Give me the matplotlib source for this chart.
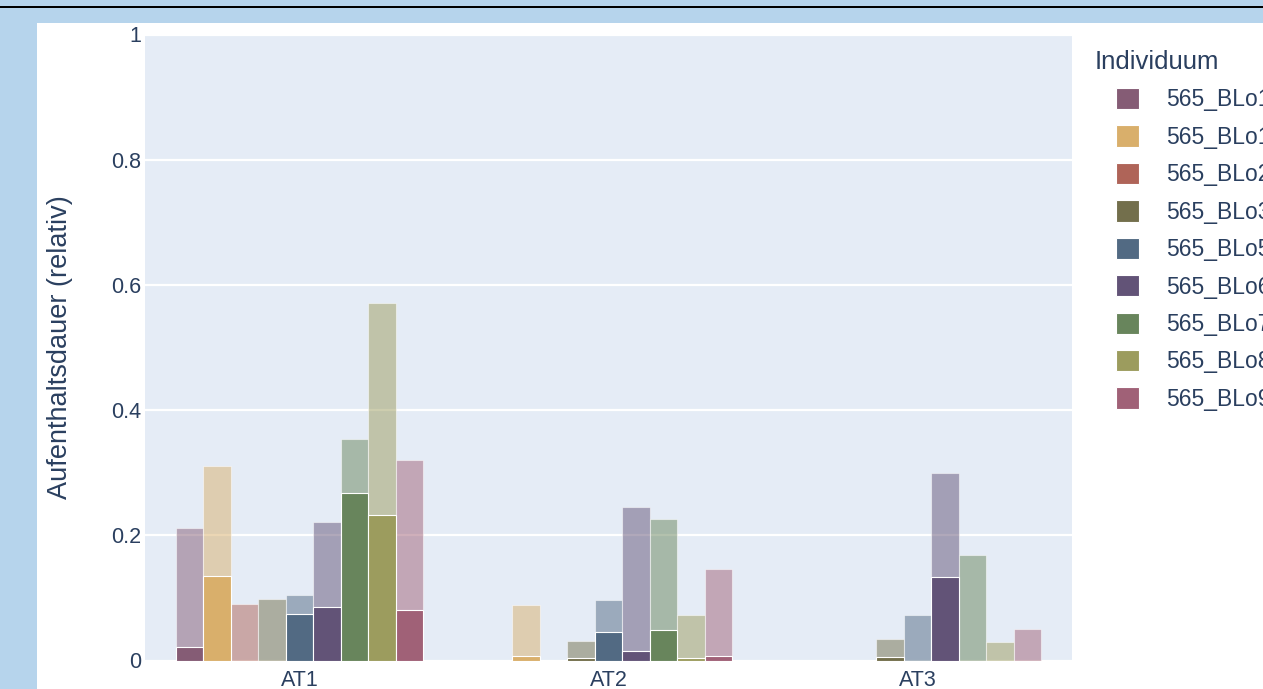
import matplotlib.pyplot as plt
import numpy as np
from matplotlib.patches import Rectangle

# Daten
kategorien = ["AT1", "AT2", "AT3"]
individuen = ["565_BLo1", "565_BLo10", "565_BLo2", "565_BLo3", "565_BLo5",
              "565_BLo6", "565_BLo7", "565_BLo8", "565_BLo9"]

# hellere Balken (gesamt)
werte_hell = [
    [0.212, 0.0, 0.0],
    [0.310, 0.088, 0.0],
    [0.091, 0.0, 0.0],
    [0.0985, 0.031, 0.035],
    [0.104, 0.097, 0.072],
    [0.221, 0.245, 0.299],
    [0.354, 0.226, 0.169],
    [0.571, 0.072, 0.029],
    [0.321, 0.146, 0.050],
]
# dunkle Balken (Anteil)
werte_dunkel = [
    [0.021, 0.0, 0.0],
    [0.135, 0.007, 0.0],
    [0.0, 0.0, 0.0],
    [0.0, 0.004, 0.006],
    [0.0745, 0.045, 0.0],
    [0.086, 0.015, 0.134],
    [0.268, 0.048, 0.0],
    [0.233, 0.004, 0.0],
    [0.081, 0.007, 0.0],
]

farben = ["#855c75", "#d9af6b", "#af6458", "#736f4c", "#526a83",
          "#625377", "#68855c", "#9c9c5e", "#a06177"]

TEXT = "#2a3f5f"
plt.rcParams['font.family'] = ['Liberation Sans', 'DejaVu Sans']

fig = plt.figure(figsize=(12.63, 6.89), dpi=100, facecolor="#b6d4ec")
# weisses Panel und schwarze Linie oben
fig.add_artist(Rectangle((37/1263, 0), 1 - 37/1263, (689-23)/689,
                         transform=fig.transFigure, facecolor="white", zorder=-2))
fig.add_artist(Rectangle((0, (689-8.3)/689), 1, 2.6/689,
                         transform=fig.transFigure, facecolor="black", zorder=-2))

ax = fig.add_axes([145/1263, (689-660.5)/689, 927/1263, 626/689])
ax.set_zorder(1)
ax.set_facecolor("#e5ecf6")

x = np.arange(len(kategorien))
n = len(individuen)
breite = 0.8 / n
handles = []
for i in range(n):
    pos = x - 0.4 + breite * (i + 0.5)
    ax.bar(pos, werte_hell[i], width=breite, color=farben[i], alpha=0.5,
           edgecolor="white", linewidth=0.8, zorder=2)
for i in range(n):
    pos = x - 0.4 + breite * (i + 0.5)
    b = ax.bar(pos, werte_dunkel[i], width=breite, color=farben[i],
               edgecolor="white", linewidth=0.8, zorder=3, label=individuen[i])
    handles.append(b)

ax.set_xlim(-0.5, 2.5)
ax.set_ylim(0, 1)
ax.set_xticks(x)
ax.set_xticklabels(kategorien)
ax.set_yticks([0, 0.2, 0.4, 0.6, 0.8, 1])
ax.set_yticklabels(["0", "0.2", "0.4", "0.6", "0.8", "1"])
ax.grid(axis="y", color="white", linewidth=1.6, zorder=1)
ax.set_axisbelow(True)
for s in ax.spines.values():
    s.set_visible(False)
ax.tick_params(axis="both", length=0, colors=TEXT, labelsize=15.5)
ax.tick_params(axis="y", pad=3)
ax.tick_params(axis="x", pad=6.5)

ax.set_ylabel("Aufenthaltsdauer (relativ)", fontsize=19.5, color=TEXT)
ax.yaxis.set_label_coords(-0.078, 0.5)

# Legende: Titel separat, Einträge eingerückt
fig.text(1095/1263, 1 - 62/689, "Individuum", fontsize=18.5, color=TEXT,
         ha="left", va="center")
leg = fig.legend(handles=handles, labels=individuen, loc="upper left",
                 bbox_to_anchor=(1116/1263, 1 - 88/689), frameon=False,
                 fontsize=16.5, handlelength=1.0, handleheight=1.05,
                 handletextpad=1.2, labelspacing=0.61, borderaxespad=0,
                 borderpad=0)
for t in leg.get_texts():
    t.set_color(TEXT)

fig.savefig("out.png", dpi=100, facecolor=fig.get_facecolor())
